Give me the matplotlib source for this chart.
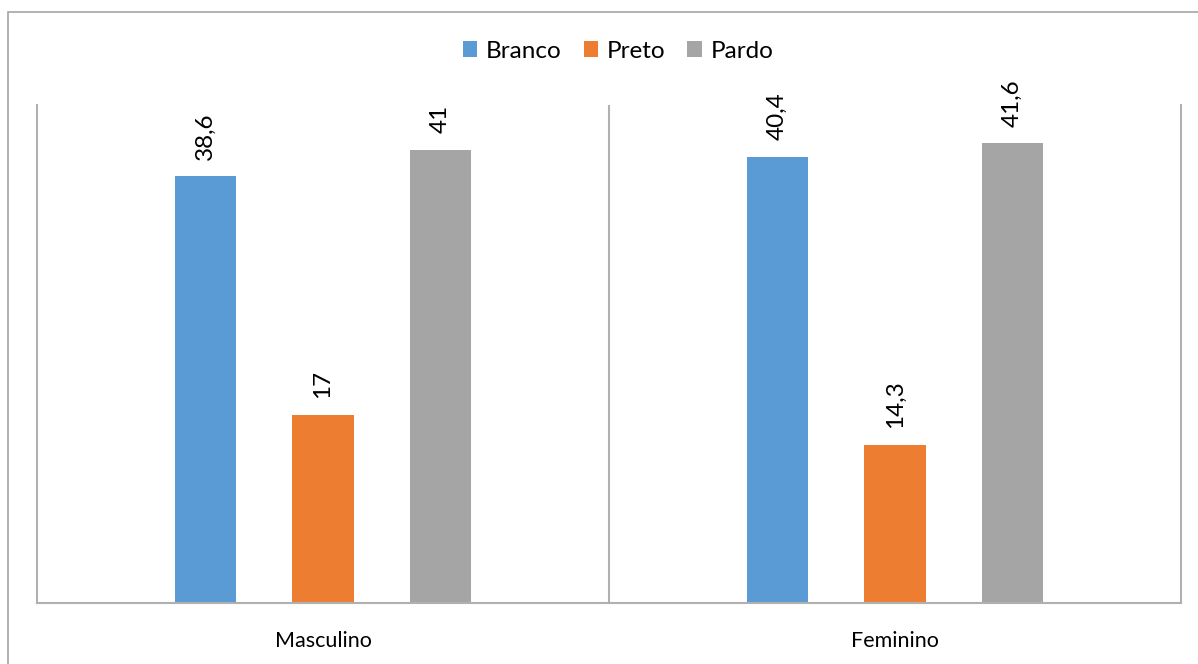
import matplotlib.pyplot as plt
from matplotlib.patches import Rectangle
import numpy as np

plt.rcParams['font.family'] = ['Lato', 'DejaVu Sans']

categories = ["Masculino", "Feminino"]
series = ["Branco", "Preto", "Pardo"]
branco = [38.6, 40.4]
preto = [17, 14.3]
pardo = [41, 41.6]
labels = [["38,6", "40,4"], ["17", "14,3"], ["41", "41,6"]]
colors = ["#5b9bd5", "#ed7d31", "#a5a5a5"]

fig = plt.figure(figsize=(11.98, 6.64), dpi=100)
ax = fig.add_axes([37 / 1198, 1 - 603 / 664, 1144 / 1198, 498 / 664])

# outer chart border
fig.patches.append(Rectangle((8 / 1198, -0.05), 1.1, 1 - 12 / 664 + 0.05,
                             transform=fig.transFigure, fill=False,
                             edgecolor="#a6a6a6", linewidth=1.2))

x = np.arange(len(categories))
width = 0.107
step = 0.2055
for i, (vals, name, c) in enumerate(zip([branco, preto, pardo], series, colors)):
    bars = ax.bar(x + (i - 1) * step, vals, width, color=c, label=name)
    for b, txt in zip(bars, labels[i]):
        ax.annotate(txt, (b.get_x() + b.get_width() / 2, b.get_height()),
                    xytext=(0, 12), textcoords="offset points",
                    rotation=90, ha="center", va="bottom", fontsize=17.5)

ax.set_xlim(-0.5, 1.5)
ax.set_ylim(0, 45.07)
ax.set_yticks([])
ax.set_xticks(x)
ax.set_xticklabels(categories, fontsize=15.5)
ax.tick_params(axis="x", length=0, pad=20)
ax.axvline(0.5, color="#b0b0b0", linewidth=1.5)
for s in ["left", "right", "bottom"]:
    ax.spines[s].set_color("#b0b0b0")
    ax.spines[s].set_linewidth(1.5)
ax.spines["top"].set_visible(False)

fig.legend(loc="center", bbox_to_anchor=(618 / 1198, 1 - 51 / 664), ncol=3,
           frameon=False, fontsize=17.5, handlelength=0.6, handleheight=0.6,
           handletextpad=0.35, columnspacing=0.9)

fig.savefig("out.png", dpi=100)
